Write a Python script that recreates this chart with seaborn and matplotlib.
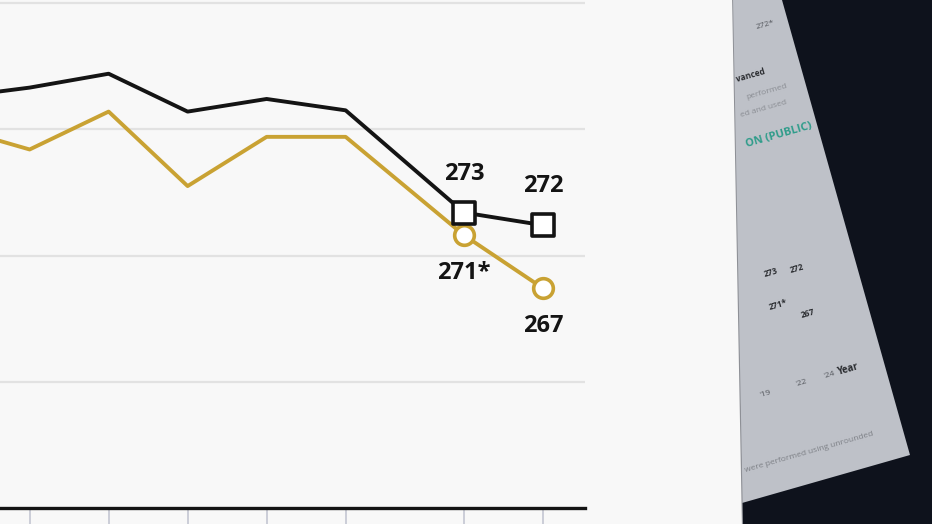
import seaborn as sns
import matplotlib.pyplot as plt
import matplotlib.patches as mpatches
import matplotlib.lines as mlines
import pandas as pd

# values (score scale)
years = [2009, 2011, 2013, 2015, 2017, 2019, 2022, 2024]
nation = [282.5, 283.3, 284.4, 281.4, 282.4, 281.5, 273.4, 272.4]
state = [280.2, 278.4, 281.4, 275.5, 279.4, 279.4, 271.6, 267.4]
tick_years = [2011, 2013, 2015, 2017, 2019, 2022, 2024]
grid_scores = [260, 270, 280, 290]
nation_labels = ["273", "272"]
state_labels = ["271*", "267"]

BLACK = "#141414"
GOLD = "#c9a233"

df = pd.concat([
    pd.DataFrame({"year": years, "score": nation, "group": "Nation"}),
    pd.DataFrame({"year": years, "score": state, "group": "State"}),
], ignore_index=True)
last = df[df["year"] >= 2022]

sns.set_style("white")
plt.rcParams["font.family"] = ["Open Sans", "DejaVu Sans"]

W, H = 932, 524
fig = plt.figure(figsize=(W / 100, H / 100), dpi=100)
fig.patch.set_facecolor("#0e121c")

def fp(x, y):
    return (x / W, 1 - y / H)

# photographed backdrop: white screen panel and tilted paper on the right
fig.patches.append(mpatches.Polygon([fp(742, 503), fp(910, 455), fp(782, 0), fp(732, 0)],
                                    closed=True, transform=fig.transFigure,
                                    facecolor="#bec1c8", edgecolor="none", zorder=0))
fig.patches.append(mpatches.Polygon([fp(-5, -5), fp(732, -5), fp(742, 530), fp(-5, 530)],
                                    closed=True, transform=fig.transFigure,
                                    facecolor="#f8f8f8", edgecolor="none", zorder=1))
fig.lines.append(mlines.Line2D([732 / W, 742 / W], [1, 0], transform=fig.transFigure,
                               color="#8e9096", lw=1.5, zorder=1))

paper_txt = [
    (755, 25, "272*", 6, "normal", "#55585e"),
    (735, 75, "vanced", 6, "bold", "#2a2c30"),
    (745, 92, "performed", 6, "normal", "#8a8d93"),
    (740, 109, "ed and used", 6, "normal", "#8a8d93"),
    (745, 135, "ON (PUBLIC)", 8, "bold", "#2e9c8a"),
    (763, 273, "273", 6, "bold", "#2a2c30"),
    (789, 269, "272", 6, "bold", "#2a2c30"),
    (768, 305, "271*", 6, "bold", "#2a2c30"),
    (800, 314, "267", 6, "bold", "#2a2c30"),
    (759, 394, "'19", 6, "normal", "#55585e"),
    (795, 383, "'22", 6, "normal", "#55585e"),
    (823, 375, "'24", 6, "normal", "#55585e"),
    (836, 370, "Year", 7, "bold", "#2a2c30"),
    (744, 452, "were performed using unrounded", 6, "normal", "#7d8086"),
]
for x, y, s, fs, fw, c in paper_txt:
    fig.text(*fp(x, y), s, fontsize=fs, fontweight=fw, color=c, rotation=16,
             ha="left", va="center", zorder=3)

ax = fig.add_axes([0, 16 / H, 585 / W, 508 / H])
ax.set_facecolor("none")
ax.set_zorder(2)

sns.lineplot(data=df, x="year", y="score", hue="group", hue_order=["State", "Nation"],
             palette={"Nation": BLACK, "State": GOLD}, lw=2.8, legend=False, ax=ax)
sns.scatterplot(data=last[last["group"] == "State"], x="year", y="score", marker="o", s=200,
                facecolor="white", edgecolor=GOLD, linewidth=2.6, zorder=4, ax=ax)
sns.scatterplot(data=last[last["group"] == "Nation"], x="year", y="score", marker="s", s=240,
                facecolor="white", edgecolor=BLACK, linewidth=2.6, zorder=5, ax=ax)

ly = last[last["group"] == "Nation"]
for (yr, sc), lab in zip(ly[["year", "score"]].values, nation_labels):
    ax.annotate(lab, (yr, sc), xytext=(0, 28), textcoords="offset points",
                ha="center", va="center", fontsize=17, fontweight="bold", color=BLACK)
ly = last[last["group"] == "State"]
for (yr, sc), lab in zip(ly[["year", "score"]].values, state_labels):
    ax.annotate(lab, (yr, sc), xytext=(0, -27), textcoords="offset points",
                ha="center", va="center", fontsize=17, fontweight="bold", color=BLACK)

ax.set_xlim(2010.25, 2025.06)
ax.set_ylim(250, 290.24)
ax.set_yticks(grid_scores)
ax.set_xticks(tick_years)
ax.set_xticklabels([])
ax.set_yticklabels([])
ax.grid(axis="y", color="#e2e2e2", lw=1.6)
ax.tick_params(axis="x", direction="out", length=12, width=1.2, color="#c4c6d2", bottom=True)
ax.tick_params(axis="y", length=0)
for side in ["top", "left", "right"]:
    ax.spines[side].set_visible(False)
ax.spines["bottom"].set_color(BLACK)
ax.spines["bottom"].set_linewidth(2.4)
ax.set_xlabel("")
ax.set_ylabel("")

fig.savefig("out.png", dpi=100, facecolor=fig.get_facecolor())
